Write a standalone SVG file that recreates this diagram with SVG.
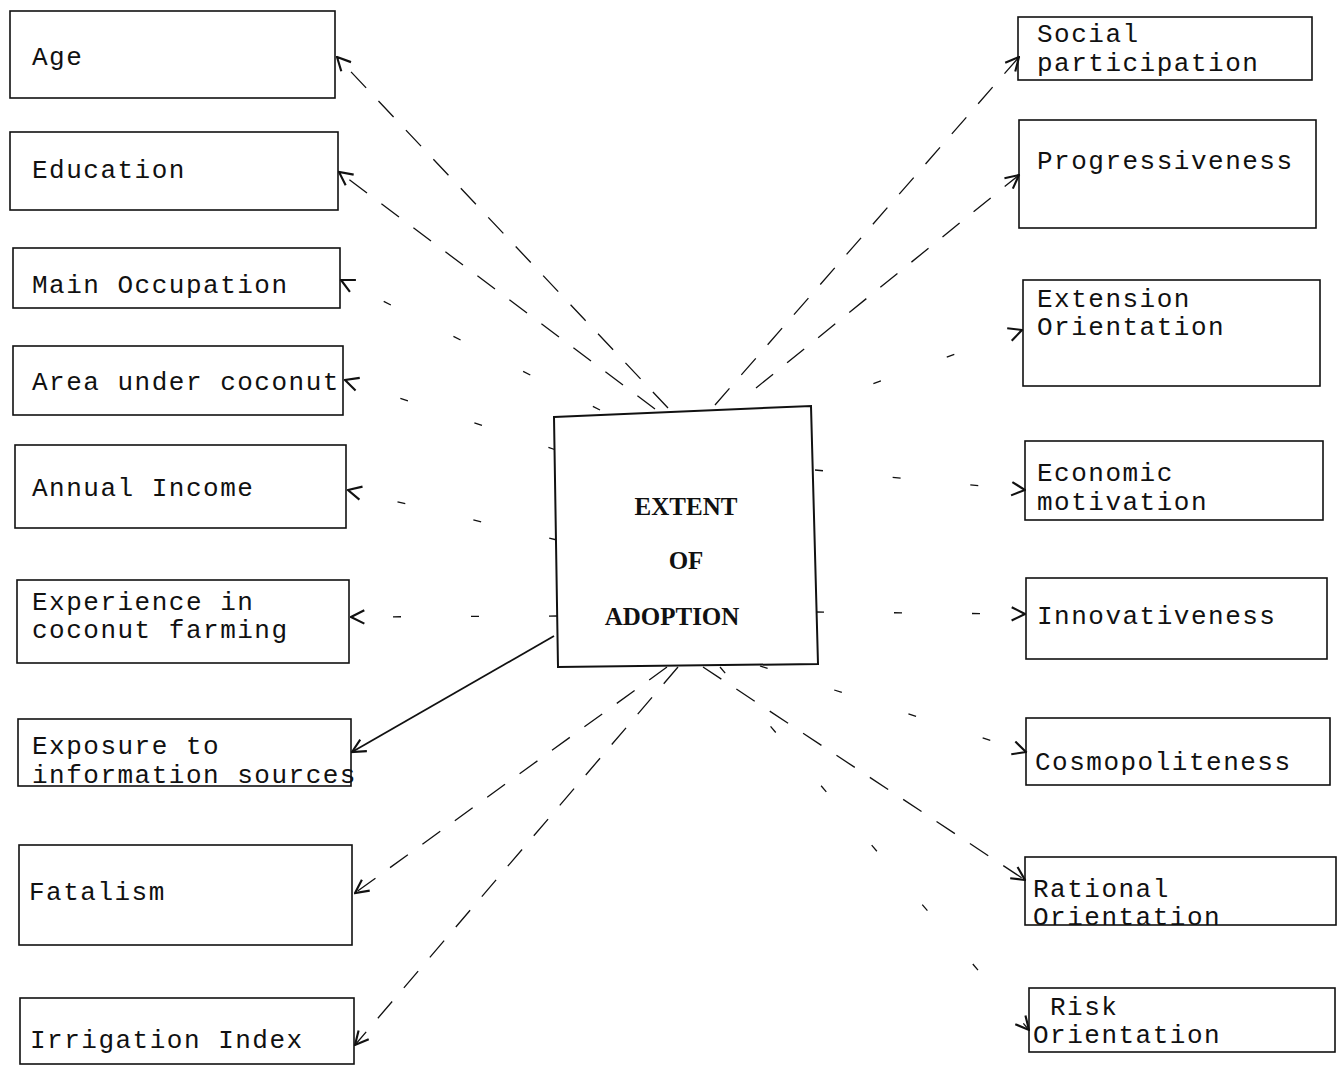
<svg xmlns="http://www.w3.org/2000/svg" width="1338" height="1066" viewBox="0 0 1338 1066">
<style>
.box{fill:none;stroke:#111;stroke-width:1.6}
.lbl{font-family:"Liberation Mono","DejaVu Sans Mono",monospace;font-size:26px;letter-spacing:1.5px;fill:#111}
.ctr{font-family:"Liberation Serif","DejaVu Serif",serif;font-size:25px;font-weight:bold;fill:#111;text-anchor:middle}
.c{fill:none;stroke:#111;stroke-width:1.3;marker-end:url(#ah)}
.d{stroke-dasharray:22 18}
.f{stroke-dasharray:8 70}
.s{stroke-width:1.8}
</style>
<defs>
<marker id="ah" viewBox="0 0 12 12" refX="11" refY="6" markerWidth="16" markerHeight="16" markerUnits="userSpaceOnUse" orient="auto">
<path d="M1,1 L11,6 L1,11" fill="none" stroke="#111" stroke-width="1.6"/>
</marker>
</defs>
<g id="connectors">
<path class="c d" d="M668,408 L337,57"/>
<path class="c d" d="M655,409 L339,172"/>
<path class="c f" d="M600,410 L341,280"/>
<path class="c f" d="M556,450 L345,380"/>
<path class="c f" d="M557,540 L348,490"/>
<path class="c f" d="M557,616 L351,617"/>
<path class="c s" d="M554,636 L352,752"/>
<path class="c d" d="M667,667 L355,893"/>
<path class="c d" d="M678,667 L355,1045"/>
<path class="c d" d="M715,405 L1019,57"/>
<path class="c d" d="M756,388 L1019,175"/>
<path class="c f" d="M800,410 L1022,330"/>
<path class="c f" d="M815,470 L1025,490"/>
<path class="c f" d="M816,612 L1025,614"/>
<path class="c f" d="M760,666 L1026,752"/>
<path class="c d" d="M703,667 L1025,880"/>
<path class="c f" d="M720,667 L1029,1030"/>
</g>
<g id="center">
<polygon class="box" points="554,417 811,406 818,664 558,667" style="fill:#fff;stroke-width:2"/>
<text class="ctr" x="686" y="515">EXTENT</text>
<text class="ctr" x="686" y="569">OF</text>
<text class="ctr" x="672" y="625">ADOPTION</text>
</g>
<g id="age"><rect class="box" x="10" y="11" width="325" height="87"/><text class="lbl" x="32" y="65">Age</text></g>
<g id="education"><rect class="box" x="10" y="132" width="328" height="78"/><text class="lbl" x="32" y="178">Education</text></g>
<g id="main-occupation"><rect class="box" x="13" y="248" width="327" height="60"/><text class="lbl" x="32" y="293">Main Occupation</text></g>
<g id="area"><rect class="box" x="13" y="346" width="330" height="69"/><text class="lbl" x="32" y="390">Area under coconut</text></g>
<g id="income"><rect class="box" x="15" y="445" width="331" height="83"/><text class="lbl" x="32" y="496">Annual Income</text></g>
<g id="experience"><rect class="box" x="17" y="580" width="332" height="83"/><text class="lbl" x="32" y="610">Experience in</text><text class="lbl" x="32" y="638">coconut farming</text></g>
<g id="exposure"><rect class="box" x="18" y="719" width="333" height="67"/><text class="lbl" x="32" y="754">Exposure to</text><text class="lbl" x="32" y="783">information sources</text></g>
<g id="fatalism"><rect class="box" x="19" y="845" width="333" height="100"/><text class="lbl" x="29" y="900">Fatalism</text></g>
<g id="irrigation"><rect class="box" x="20" y="998" width="334" height="66"/><text class="lbl" x="30" y="1048">Irrigation Index</text></g>
<g id="social"><rect class="box" x="1018" y="17" width="294" height="63"/><text class="lbl" x="1037" y="42">Social</text><text class="lbl" x="1037" y="71">participation</text></g>
<g id="progressiveness"><rect class="box" x="1019" y="120" width="297" height="108"/><text class="lbl" x="1037" y="169">Progressiveness</text></g>
<g id="extension"><rect class="box" x="1023" y="280" width="297" height="106"/><text class="lbl" x="1037" y="307">Extension</text><text class="lbl" x="1037" y="335">Orientation</text></g>
<g id="economic"><rect class="box" x="1025" y="441" width="298" height="79"/><text class="lbl" x="1037" y="481">Economic</text><text class="lbl" x="1037" y="510">motivation</text></g>
<g id="innovativeness"><rect class="box" x="1026" y="578" width="301" height="81"/><text class="lbl" x="1037" y="624">Innovativeness</text></g>
<g id="cosmopoliteness"><rect class="box" x="1026" y="718" width="304" height="67"/><text class="lbl" x="1035" y="770">Cosmopoliteness</text></g>
<g id="rational"><rect class="box" x="1025" y="857" width="311" height="68"/><text class="lbl" x="1033" y="897">Rational</text><text class="lbl" x="1033" y="925">Orientation</text></g>
<g id="risk"><rect class="box" x="1029" y="988" width="306" height="64"/><text class="lbl" x="1050" y="1015">Risk</text><text class="lbl" x="1033" y="1043">Orientation</text></g>
</svg>
